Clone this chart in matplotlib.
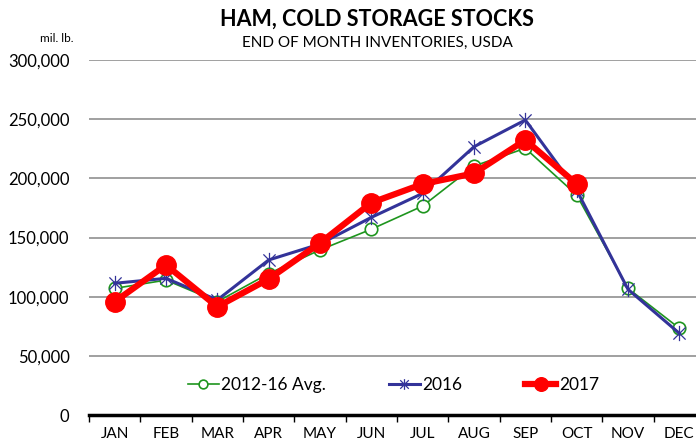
import numpy as np
import matplotlib.pyplot as plt
from matplotlib.path import Path

plt.rcParams['font.family'] = ['Lato', 'DejaVu Sans']

# Dados (mil. lb.)
meses = ['JAN', 'FEB', 'MAR', 'APR', 'MAY', 'JUN', 'JUL', 'AUG', 'SEP', 'OCT', 'NOV', 'DEC']
media_2012_16 = [107000, 114000, 95800, 119500, 139500, 157000, 176600, 210400, 225400, 185900, 107000, 73300]
ano_2016 = [111300, 115500, 97200, 131000, 144500, 167000, 187300, 226700, 249300, 190000, 106200, 69000]
ano_2017 = [95700, 126800, 91500, 114900, 145300, 179400, 195200, 204200, 232400, 195200]
yticks = [0, 50000, 100000, 150000, 200000, 250000, 300000]

# marcador estrela (X com traço vertical), como no Excel
estrela = Path([(-1, -1), (1, 1), (-1, 1), (1, -1), (0, -1.25), (0, 1.25)],
               [Path.MOVETO, Path.LINETO, Path.MOVETO, Path.LINETO, Path.MOVETO, Path.LINETO])

fig = plt.figure(figsize=(6.96, 4.42), dpi=100)
ax = fig.add_axes([89 / 696, 1 - 415 / 442, 616 / 696, 355 / 442])

x = np.arange(len(meses))
ax.plot(x, media_2012_16, color='#1e951e', lw=1.2, marker='o', ms=9,
        mfc='white', mec='#1e951e', mew=1.2, label='2012-16 Avg.', zorder=3)
ax.plot(x, ano_2016, color='#333399', lw=2.2, marker=estrela, ms=11,
        mec='#333399', mew=0.9, label='2016', zorder=4)
ax.plot(np.arange(len(ano_2017)), ano_2017, color='#ff0000', lw=4.5, marker='o',
        ms=14, label='2017', zorder=5)

ax.set_xlim(-0.5, 11.5)
ax.set_ylim(0, 300000)
ax.set_yticks(yticks)
ax.set_yticklabels([f'{v:,}' for v in yticks], fontsize=12)
ax.set_xticks(x)
ax.set_xticklabels(meses, fontsize=11)
ax.set_xticks(np.arange(-0.5, 12, 1), minor=True)
ax.tick_params(axis='x', which='major', length=0, pad=9)
ax.tick_params(axis='x', which='minor', length=5, width=1, color='black')
ax.tick_params(axis='y', length=0, pad=14)

ax.grid(axis='y', color='#a0a0a0', lw=1.4)
ax.set_axisbelow(True)
for lado in ['top', 'right', 'left']:
    ax.spines[lado].set_visible(False)
ax.spines['bottom'].set_linewidth(2.5)

ax.legend(loc='center', bbox_to_anchor=(0.494, 0.085), ncol=3, frameon=False,
          fontsize=12.5, handlelength=1.8, handletextpad=0.15, columnspacing=3.6,
          markerscale=0.7)

fig.text(377 / 696, 1 - 19 / 442, 'HAM, COLD STORAGE STOCKS', ha='center', va='center',
         fontsize=15.5, fontweight='bold')
fig.text(377 / 696, 1 - 43 / 442, 'END OF MONTH INVENTORIES, USDA', ha='center',
         va='center', fontsize=11)
fig.text(73 / 696, 1 - 39 / 442, 'mil. lb.', ha='right', va='center', fontsize=8.5)

fig.savefig('out.png', dpi=100)
